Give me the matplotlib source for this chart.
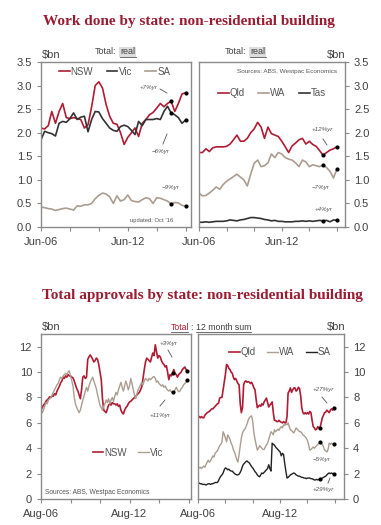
import matplotlib
matplotlib.use("Agg")
import matplotlib.pyplot as plt
import pandas as pd

plt.rcParams["font.family"] = ["Liberation Sans", "DejaVu Sans"]

W, H = 381, 525

# --- work done, quarterly, $bn real (Jun-06 .. Jun-16) ---
wd_dates = pd.date_range("2006-06-01", periods=41, freq="3MS")
nsw_wd = [2.10, 2.08, 2.15, 2.45, 2.20, 2.45, 2.62, 2.32, 2.30, 2.32,
          2.30, 2.28, 2.10, 2.17, 2.55, 3.00, 3.08, 2.95, 2.60, 2.35,
          2.20, 2.18, 2.00, 1.75, 1.90, 2.00, 2.10, 1.92, 2.20, 2.28,
          2.38, 2.43, 2.52, 2.62, 2.55, 2.62, 2.67, 2.45, 2.62, 2.82, 2.85]
vic_wd = [1.85, 2.03, 2.00, 1.98, 1.93, 2.20, 2.24, 2.22, 2.30, 2.42,
          2.28, 2.33, 2.35, 2.02, 2.28, 2.45, 2.44, 2.30, 2.20, 2.10,
          2.05, 2.03, 2.13, 2.16, 2.13, 2.05, 1.96, 2.24, 2.15, 2.28,
          2.28, 2.28, 2.30, 2.28, 2.45, 2.56, 2.42, 2.38, 2.32, 2.20, 2.27]
sa_wd = [0.42, 0.41, 0.39, 0.38, 0.35, 0.37, 0.39, 0.40, 0.38, 0.36,
         0.45, 0.44, 0.47, 0.47, 0.50, 0.60, 0.67, 0.72, 0.70, 0.64,
         0.50, 0.66, 0.55, 0.58, 0.68, 0.56, 0.54, 0.53, 0.58, 0.62,
         0.60, 0.50, 0.62, 0.61, 0.58, 0.55, 0.49, 0.52, 0.51, 0.46, 0.44]
qld_wd = [1.58, 1.58, 1.66, 1.60, 1.68, 1.70, 1.70, 1.70, 1.71, 1.76,
          1.85, 1.95, 1.82, 1.82, 1.88, 2.00, 2.08, 2.22, 2.12, 1.88,
          2.12, 1.98, 1.95, 1.92, 1.82, 1.70, 1.58, 1.72, 1.78, 1.85,
          1.88, 1.76, 1.82, 1.75, 1.71, 1.62, 1.52, 1.58, 1.63, 1.66, 1.70]
wa_wd = [0.72, 0.66, 0.67, 0.72, 0.78, 0.85, 0.80, 0.90, 0.97, 1.02,
         1.07, 1.12, 1.06, 1.00, 0.87, 1.12, 1.35, 1.42, 1.28, 1.30,
         1.36, 1.55, 1.47, 1.58, 1.55, 1.47, 1.44, 1.42, 1.36, 1.28,
         1.42, 1.38, 1.28, 1.32, 1.30, 1.28, 1.32, 1.26, 1.18, 1.04, 1.23]
tas_wd = [0.10, 0.10, 0.11, 0.10, 0.11, 0.12, 0.12, 0.12, 0.13, 0.15,
          0.14, 0.13, 0.15, 0.16, 0.18, 0.20, 0.20, 0.19, 0.18, 0.16,
          0.15, 0.13, 0.14, 0.12, 0.12, 0.11, 0.11, 0.11, 0.12, 0.12,
          0.13, 0.12, 0.13, 0.12, 0.13, 0.14, 0.13, 0.14, 0.11, 0.15, 0.14]

# --- approvals, 12 month sum, $bn (Aug-06 .. Jul-16) ---
ap_dates = pd.date_range("2006-08-01", periods=120, freq="MS")
nsw_ap = [7.0, 7.2, 7.4, 7.5, 7.7, 7.8, 7.9, 8.05, 8.0, 8.1,
          8.1, 8.3, 8.2, 8.5, 8.7, 8.9, 9.15, 9.3, 9.6, 9.5,
          9.7, 9.6, 9.8, 9.7, 9.7, 9.6, 9.55, 9.3, 9.0, 8.7,
          8.5, 8.2, 7.9, 8.6, 9.6, 9.7, 9.5, 9.6, 11.0, 11.2,
          11.35, 11.2, 11.0, 10.8, 10.9, 11.1, 11.0, 10.6, 10.0, 9.4,
          7.9, 7.0, 6.9, 6.8, 7.1, 7.4, 7.5, 7.4, 7.6, 7.5,
          7.5, 7.4, 7.5, 7.3, 7.4, 7.0, 6.8, 6.7, 7.0, 7.2,
          7.3, 7.5, 7.65, 7.7, 7.8, 7.9, 8.0, 8.1, 8.2, 8.3,
          8.4, 8.6, 8.85, 9.5, 10.2, 10.8, 11.1, 11.0, 10.9, 10.8,
          11.2, 11.5, 11.3, 12.15, 11.6, 11.1, 11.3, 11.2, 10.9, 10.7,
          10.6, 10.4, 10.5, 10.0, 9.4, 9.8, 9.7, 9.9, 10.2, 9.9,
          9.8, 9.6, 9.8, 9.9, 10.0, 10.2, 10.3, 10.4, 10.2, 10.1]
vic_ap = [7.0, 6.8, 7.0, 7.3, 7.6, 7.5, 7.8, 7.9, 8.0, 8.2,
          8.4, 8.6, 8.8, 9.0, 9.1, 9.4, 9.6, 9.5, 9.7, 9.8,
          9.9, 9.8, 10.0, 10.1, 9.7, 9.3, 8.9, 8.0, 7.5, 7.2,
          7.0, 6.8, 7.0, 7.4, 7.8, 8.1, 8.5, 8.8, 8.5, 8.9,
          9.2, 9.4, 9.6, 9.3, 9.0, 8.7, 8.2, 7.8, 7.4, 7.2,
          7.0, 7.3, 7.5, 7.8, 7.6, 7.9, 7.5, 7.8, 8.0, 7.7,
          8.1, 8.4, 8.2, 8.6, 8.9, 9.2, 8.8, 8.5, 8.9, 9.3,
          9.0, 8.6, 8.9, 9.5, 9.1, 8.6, 8.2, 7.9, 8.3, 8.6,
          8.8, 9.0, 9.2, 9.0, 9.3, 9.5, 9.4, 9.3, 9.5, 9.4,
          9.5, 9.6, 9.65, 9.5, 9.2, 9.3, 9.1, 9.0, 8.9, 9.0,
          8.8, 8.9, 8.7, 8.6, 8.5, 8.6, 8.45, 8.45, 8.3, 8.6,
          8.8, 8.6, 8.45, 8.5, 8.7, 8.8, 9.0, 9.1, 9.2, 9.4]
qld_ap = [6.5, 6.5, 6.4, 6.5, 6.4, 6.4, 6.6, 6.7, 6.8, 6.85,
          6.9, 7.0, 7.1, 7.1, 7.2, 7.3, 7.4, 7.5, 7.55, 7.95,
          8.0, 8.0, 8.6, 9.2, 9.8, 10.6, 10.5, 10.3, 10.2, 10.0,
          9.9, 9.6, 9.4, 9.5, 9.3, 9.1, 9.0, 7.5, 6.8, 7.2,
          9.0, 9.25, 9.3, 9.2, 9.25, 9.2, 9.1, 9.2, 9.0, 8.75,
          8.6, 7.8, 7.2, 7.3, 7.4, 7.3, 7.5, 7.4, 7.65, 7.8,
          7.95, 7.6, 7.25, 7.4, 7.5, 7.65, 6.8, 6.2, 6.2, 6.1,
          6.1, 6.2, 6.1, 6.05, 6.0, 6.1, 6.0, 6.0, 6.5, 8.35,
          8.5, 8.75, 8.4, 8.6, 8.75, 8.75, 8.5, 8.6, 8.8, 8.7,
          8.1, 7.2, 6.8, 6.7, 6.8, 6.7, 6.8, 6.7, 6.9, 6.8,
          6.2, 5.7, 5.6, 5.45, 5.5, 5.7, 5.6, 5.6, 6.0, 6.4,
          6.6, 6.8, 6.85, 7.0, 6.9, 6.8, 7.0, 7.1, 7.0, 7.2]
wa_ap = [2.4, 2.45, 2.5, 2.4, 2.5, 2.6, 2.5, 2.7, 2.9, 3.05,
         2.9, 3.0, 3.2, 3.4, 3.3, 3.6, 3.7, 3.8, 4.0, 4.2,
         4.3, 4.5, 5.3, 5.1, 4.8, 4.5, 5.05, 4.9, 4.7, 4.4,
         4.2, 3.9, 3.7, 3.4, 3.1, 2.9, 3.5, 4.2, 4.8, 5.2,
         5.4, 5.5, 5.7, 5.9, 6.2, 6.4, 6.5, 6.55, 6.1, 5.2,
         4.7, 4.25, 3.85, 4.0, 4.2, 4.1, 4.0, 3.9, 3.9, 4.1,
         4.25, 4.4, 4.7, 5.0, 5.3, 5.2, 5.05, 5.45, 5.3, 5.4,
         5.5, 5.4, 5.6, 5.7, 5.6, 5.85, 5.8, 5.9, 5.85, 6.0,
         5.7, 5.45, 5.4, 5.3, 5.2, 5.4, 5.6, 5.5, 5.4, 5.3,
         5.3, 5.2, 5.05, 5.0, 4.9, 4.8, 4.6, 4.25, 3.85, 3.9,
         4.0, 4.1, 4.0, 4.1, 4.2, 4.3, 4.4, 4.5, 4.4, 4.3,
         4.1, 3.85, 3.8, 3.7, 3.9, 4.4, 4.3, 4.4, 4.35, 4.3]
sa_ap = [1.3, 1.25, 1.2, 1.2, 1.15, 1.15, 1.15, 1.1, 1.15, 1.2,
         1.2, 1.15, 1.2, 1.2, 1.25, 1.3, 1.3, 1.3, 1.45, 1.65,
         1.8, 1.9, 2.05, 2.3, 2.45, 2.4, 2.3, 2.35, 2.25, 2.2,
         2.2, 2.1, 2.0, 1.95, 1.9, 1.9, 1.95, 2.1, 2.3, 2.6,
         2.75, 2.85, 2.95, 3.0, 2.9, 2.85, 2.7, 2.55, 2.45, 2.3,
         2.15, 2.05, 1.9, 1.8, 1.75, 1.9, 2.05, 2.0, 2.1, 2.2,
         2.3, 2.4, 2.7, 2.4, 2.2, 4.4, 4.3, 4.25, 4.1, 4.0,
         3.9, 3.8, 3.7, 3.4, 3.6, 3.5, 2.8, 2.2, 1.65, 1.7,
         1.8, 1.9, 1.95, 2.0, 2.05, 2.0, 1.9, 1.85, 1.8, 1.8,
         1.75, 1.7, 1.7, 1.65, 1.65, 1.6, 1.65, 1.65, 1.65, 1.6,
         1.6, 1.55, 1.5, 1.5, 1.55, 1.5, 1.55, 1.55, 1.6, 1.65,
         1.7, 1.75, 1.8, 1.9, 2.0, 2.05, 2.0, 2.05, 2.0, 2.0]

wd_ticks = pd.date_range("2006-06-01", periods=6, freq="24MS")
wd_ticklabels = ["Jun-06", "", "", "Jun-12", "", ""]
ap_ticks = pd.date_range("2006-08-01", periods=6, freq="24MS")
ap_ticklabels = ["Aug-06", "", "", "Aug-12", "", ""]

RED = "#b01c33"
DARK = "#333333"
TAN = "#ab9d90"
TITLE = "#9b1c31"
GREY = "#555555"


def px_axes(fig, l, t, r, b):
    return fig.add_axes([l / W, 1 - b / H, (r - l) / W, (b - t) / H])


def ftext(fig, x, y, s, **kw):
    kw.setdefault("ha", "left")
    kw.setdefault("va", "center")
    return fig.text(x / W, 1 - y / H, s, **kw)


def style(ax, ticks, labels, xlim, ylim, yticks, fmt, right=False):
    ax.set_xlim(pd.Timestamp(xlim[0]), pd.Timestamp(xlim[1]))
    ax.set_ylim(*ylim)
    ax.set_xticks(ticks)
    ax.set_xticklabels(labels)
    ax.set_yticks(yticks)
    ax.set_yticklabels([fmt.format(v) for v in yticks])
    for s in ax.spines.values():
        s.set_color("#8a8a8a")
        s.set_linewidth(1.0)
    ax.tick_params(axis="both", labelsize=8, colors="#8a8a8a", labelcolor="#404040",
                   length=3, width=0.8)
    if right:
        ax.yaxis.tick_right()
    ax.tick_params(axis="x", pad=4)


def dots(ax, dates, series, lag):
    ax.plot([dates[-1 - lag], dates[-1]], [series[-1 - lag], series[-1]], "o",
            color="black", markersize=2.0, zorder=5)


def ann(fig, x, y, s, size=4.5):
    ftext(fig, x, y, s, fontsize=size, style="italic", color="#555555")


def seg(fig, x0, y0, x1, y1):
    fig.add_artist(plt.Line2D([x0 / W, x1 / W], [1 - y0 / H, 1 - y1 / H],
                              color="#555555", lw=0.6))


fig = plt.figure(figsize=(W / 100, H / 100), dpi=100)
fig.patch.set_facecolor("white")

# ---------------- titles ----------------
ftext(fig, 189, 22, "Work done by state: non-residential building", ha="center",
      family=["Liberation Serif"], weight="bold", fontsize=11, color=TITLE)
ftext(fig, 202, 295, "Total approvals by state: non-residential building", ha="center",
      family=["Liberation Serif"], weight="bold", fontsize=11, color=TITLE)

# ---------------- top left ----------------
ax1 = px_axes(fig, 41, 62, 191, 227)
ax1.plot(wd_dates, nsw_wd, color=RED, lw=1.2, label="NSW")
ax1.plot(wd_dates, vic_wd, color=DARK, lw=1.2, label="Vic")
ax1.plot(wd_dates, sa_wd, color=TAN, lw=1.2, label="SA")
for s in (nsw_wd, vic_wd, sa_wd):
    dots(ax1, wd_dates, s, 4)
style(ax1, wd_ticks, wd_ticklabels, ("2006-06-01", "2016-10-15"), (0, 3.5),
      [0, 0.5, 1, 1.5, 2, 2.5, 3, 3.5], "{:.1f}")
ax1.legend(loc="center", bbox_to_anchor=(0.49, 0.94), ncol=3, frameon=False,
           fontsize=7, handlelength=1.1, handletextpad=0.1, columnspacing=1.4,
           labelcolor=GREY)

# ---------------- top right ----------------
ax2 = px_axes(fig, 199, 62, 345, 227)
ax2.plot(wd_dates, qld_wd, color=RED, lw=1.2, label="Qld")
ax2.plot(wd_dates, wa_wd, color=TAN, lw=1.2, label="WA")
ax2.plot(wd_dates, tas_wd, color=DARK, lw=1.2, label="Tas")
for s in (qld_wd, wa_wd, tas_wd):
    dots(ax2, wd_dates, s, 4)
style(ax2, wd_ticks, wd_ticklabels, ("2006-06-01", "2017-01-01"), (0, 3.5),
      [0, 0.5, 1, 1.5, 2, 2.5, 3, 3.5], "{:.1f}", right=True)
ax2.legend(loc="center", bbox_to_anchor=(0.5, 0.81), ncol=3, frameon=False,
           fontsize=7, handlelength=1.1, handletextpad=0.1, columnspacing=1.4,
           labelcolor=GREY)

# ---------------- bottom left ----------------
ax3 = px_axes(fig, 41, 334, 191, 499)
ax3.plot(ap_dates, nsw_ap, color=RED, lw=1.2, label="NSW")
ax3.plot(ap_dates, vic_ap, color=TAN, lw=1.0, label="Vic")
for s in (nsw_ap, vic_ap):
    dots(ax3, ap_dates, s, 12)
style(ax3, ap_ticks, ap_ticklabels, ("2006-08-01", "2016-10-01"), (0, 13),
      [0, 2, 4, 6, 8, 10, 12], "{:d}")
ax3.legend(loc="center", bbox_to_anchor=(0.58, 0.28), ncol=2, frameon=False,
           fontsize=7, handlelength=1.1, handletextpad=0.1, columnspacing=1.2,
           labelcolor=GREY)

# ---------------- bottom right ----------------
ax4 = px_axes(fig, 198, 334, 344, 499)
ax4.plot(ap_dates, qld_ap, color=RED, lw=1.2, label="Qld")
ax4.plot(ap_dates, wa_ap, color=TAN, lw=1.0, label="WA")
ax4.plot(ap_dates, sa_ap, color="#222222", lw=1.0, label="SA")
for s in (qld_ap, wa_ap, sa_ap):
    dots(ax4, ap_dates, s, 12)
style(ax4, ap_ticks, ap_ticklabels, ("2006-08-01", "2017-04-01"), (0, 13),
      [0, 2, 4, 6, 8, 10, 12], "{:d}", right=True)
ax4.legend(loc="center", bbox_to_anchor=(0.56, 0.89), ncol=3, frameon=False,
           fontsize=7, handlelength=1.1, handletextpad=0.1, columnspacing=1.2,
           labelcolor=GREY)

# ---------------- headers ----------------
ftext(fig, 42, 55, "$bn", fontsize=8, color="#404040")
ftext(fig, 327, 55, "$bn", fontsize=8, color="#404040")
ftext(fig, 42, 327, "$bn", fontsize=8, color="#404040")
ftext(fig, 327, 327, "$bn", fontsize=8, color="#404040")

for x0 in (95, 225):
    ftext(fig, x0, 52, "Total:", fontsize=6.5, color="#404040")
    ftext(fig, x0 + 25, 52, "real", fontsize=6.5, color="#404040",
          bbox=dict(boxstyle="square,pad=0.1", fc="#dddddd", ec="none"))
    seg(fig, x0 + 25, 57, x0 + 41, 57)

ftext(fig, 171, 327, "Total", fontsize=6.3, color=RED)
seg(fig, 171, 332, 188, 332)
ftext(fig, 190, 327, ":", fontsize=6.3, color="#404040")
ftext(fig, 196, 327, "12 month sum", fontsize=6.3, color="#404040")
seg(fig, 196, 332, 251, 332)

ftext(fig, 237, 71, "Sources: ABS, Westpac Economics", fontsize=4.6, color=GREY)
ftext(fig, 45, 493, "Sources: ABS, Westpac Economics", fontsize=4.8, color=GREY)
ftext(fig, 130, 220, "updated: Oct '16", fontsize=4.2, color=GREY)

# ---------------- change annotations ----------------
ann(fig, 140, 88, "+7%yr")
seg(fig, 160, 89, 167, 93)
ann(fig, 152, 151, "\u22126%yr")
seg(fig, 163, 144, 167, 134)
ann(fig, 162, 188, "\u22129%yr")

ann(fig, 312, 130, "+12%yr")
seg(fig, 323, 139, 327, 145)
ann(fig, 312, 188, "\u22127%yr")
ann(fig, 315, 210, "+4%yr")

ann(fig, 160, 343, "+3%yr")
seg(fig, 168, 350, 172, 357)
ann(fig, 150, 415, "+11%yr")
seg(fig, 160, 406, 165, 400)

ann(fig, 313, 390, "+27%yr")
seg(fig, 322, 397, 327, 403)
ann(fig, 313, 460, "\u22125%yr")
ann(fig, 313, 490, "+29%yr")
seg(fig, 328, 483, 330, 478)

fig.savefig("out.png", dpi=100, facecolor="white")
